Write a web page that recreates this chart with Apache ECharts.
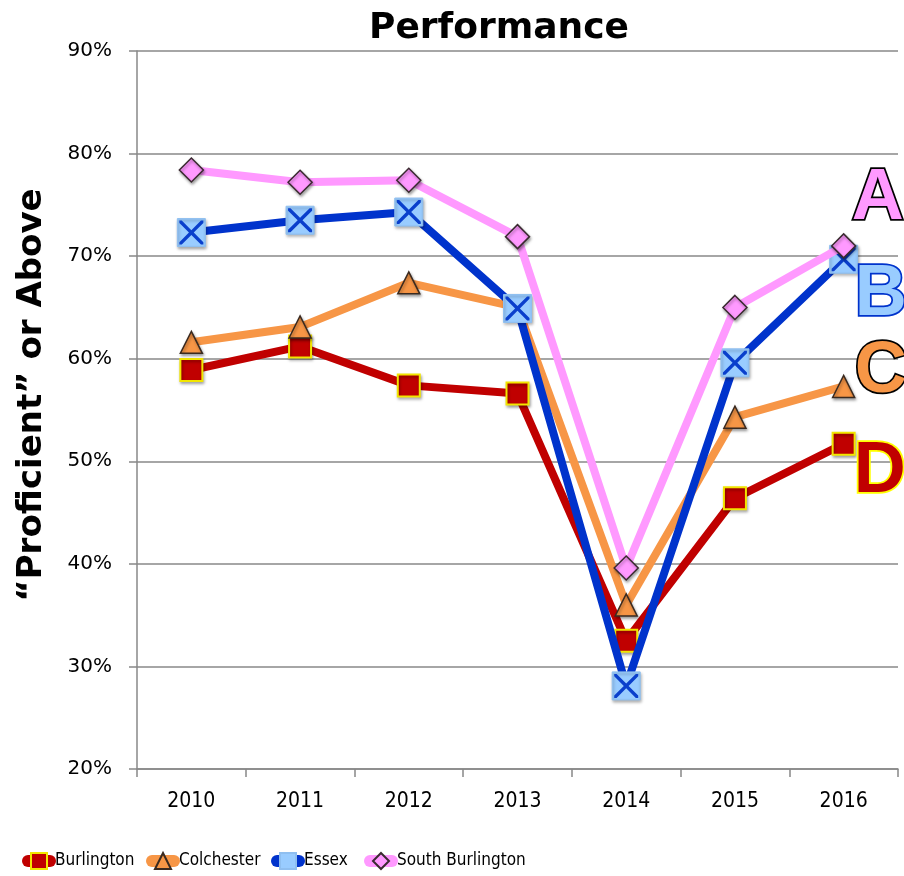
<!DOCTYPE html>
<html>
<head>
<meta charset="utf-8">
<title>Performance</title>
<script src="https://cdn.jsdelivr.net/npm/echarts@6/dist/echarts.min.js"></script>
<style>
  html, body { margin: 0; padding: 0; background: #ffffff; }
  #chart { width: 904px; height: 876px; }
</style>
</head>
<body>
<div id="chart"></div>
<script>
// 数据
const years = ['2010', '2011', '2012', '2013', '2014', '2015', '2016'];
const burlington = [58.9, 61.2, 57.4, 56.6, 32.5, 46.4, 51.7];
const colchester = [61.6, 63.1, 67.4, 65.0, 36.0, 54.3, 57.3];
const essex = [72.3, 73.5, 74.3, 64.9, 28.1, 59.6, 69.7];
const southBurlington = [78.4, 77.2, 77.4, 71.9, 39.6, 65.0, 71.0];
const seriesNames = ['Burlington', 'Colchester', 'Essex', 'South Burlington'];
const gradeLabels = ['D', 'C', 'B', 'A'];

const narrowFont = '"DejaVu Sans Condensed", "Liberation Sans", sans-serif';

const chart = echarts.init(document.getElementById('chart'));

const markerShadow = {
  shadowColor: 'rgba(0,0,0,0.35)',
  shadowBlur: 3,
  shadowOffsetX: 1,
  shadowOffsetY: 2
};

// 右侧大字母标签
const gradeLabel = (text, fill, stroke, offset) => ({
  show: true,
  formatter: text,
  offset: offset,
  fontFamily: 'Liberation Sans',
  fontWeight: 'bold',
  fontSize: 72,
  color: fill,
  textBorderColor: stroke,
  textBorderWidth: 3.5
});

const xPath = 'path://M0,0L2,0L10,8L18,0L20,0L20,2L12,10L20,18L20,20L18,20L10,12L2,20L0,20L0,18L8,10L0,2Z';

// 每个图例单独放置
const legendLeft = [22, 146, 271, 364];
const legends = seriesNames.map((name, i) => ({
  left: legendLeft[i],
  bottom: 6,
  padding: 0,
  itemWidth: 22,
  itemHeight: 20,
  itemGap: 0,
  data: [{ name: name, lineStyle: { width: 12, cap: 'round' } }],
  textStyle: {
    fontFamily: narrowFont,
    fontSize: 17,
    color: '#000000',
    padding: [0, 0, 0, 0]
  }
}));

const option = {
  backgroundColor: '#ffffff',
  animation: false,
  title: {
    text: 'Performance',
    left: 494,
    top: 6,
    textAlign: 'center',
    textStyle: {
      fontFamily: 'DejaVu Sans',
      fontWeight: 'bold',
      fontSize: 36,
      color: '#000000'
    }
  },
  legend: legends,
  grid: {
    left: 137,
    right: 6,
    top: 51,
    bottom: 107
  },
  xAxis: {
    type: 'category',
    data: years,
    boundaryGap: true,
    axisLine: { lineStyle: { color: '#888888', width: 1.5 } },
    axisTick: { show: true, length: 8, lineStyle: { color: '#888888', width: 1.5 } },
    axisLabel: {
      margin: 22,
      fontFamily: narrowFont,
      fontSize: 21,
      color: '#000000'
    }
  },
  yAxis: {
    type: 'value',
    min: 20,
    max: 90,
    interval: 10,
    name: '\u201cProficient\u201d or Above',
    nameLocation: 'middle',
    nameGap: 88,
    nameTextStyle: {
      fontFamily: 'DejaVu Sans',
      fontWeight: 'bold',
      fontSize: 34,
      color: '#000000',
      padding: [0, 0, 0, 30]
    },
    axisLine: { show: true, lineStyle: { color: '#888888', width: 1.5 } },
    axisTick: { show: true, length: 8, lineStyle: { color: '#888888', width: 1.5 } },
    axisLabel: {
      margin: 25,
      formatter: '{value}%',
      fontFamily: 'DejaVu Sans',
      fontSize: 20,
      color: '#000000'
    },
    splitLine: { lineStyle: { color: '#888888', width: 1.5 } }
  },
  series: [
    {
      name: seriesNames[0],
      type: 'line',
      data: burlington,
      z: 2,
      symbol: 'rect',
      symbolSize: 22,
      lineStyle: { color: '#c00000', width: 8 },
      itemStyle: Object.assign({ color: '#c00000', borderColor: '#f2e600', borderWidth: 2 }, markerShadow),
      endLabel: gradeLabel(gradeLabels[0], '#c00000', '#ffff00', [2, 28])
    },
    {
      name: seriesNames[1],
      type: 'line',
      data: colchester,
      z: 3,
      symbol: 'triangle',
      symbolSize: 22,
      lineStyle: { color: '#f79646', width: 8 },
      itemStyle: Object.assign({ color: '#f79646', borderColor: '#3a2a20', borderWidth: 1.5 }, markerShadow),
      endLabel: gradeLabel(gradeLabels[1], '#f79646', '#000000', [3, -14])
    },
    {
      name: seriesNames[2],
      type: 'line',
      data: essex,
      z: 4,
      symbol: 'rect',
      symbolSize: 28,
      lineStyle: { color: '#0033cc', width: 8 },
      itemStyle: Object.assign({ color: '#99ccff', borderColor: '#8fbff0', borderWidth: 1 }, markerShadow),
      endLabel: gradeLabel(gradeLabels[2], '#99ccff', '#0033cc', [3, 36])
    },
    {
      // Essex 标记上的蓝色叉
      name: seriesNames[2],
      type: 'line',
      data: essex,
      z: 5,
      symbol: xPath,
      symbolSize: 24,
      lineStyle: { width: 0, opacity: 0 },
      itemStyle: { color: '#0a3fcc' },
      legendHoverLink: false,
      silent: true
    },
    {
      name: seriesNames[3],
      type: 'line',
      data: southBurlington,
      z: 6,
      symbol: 'diamond',
      symbolSize: 24,
      lineStyle: { color: '#ff99ff', width: 8 },
      itemStyle: Object.assign({ color: '#ff99ff', borderColor: '#3a2a30', borderWidth: 1.5 }, markerShadow),
      endLabel: gradeLabel(gradeLabels[3], '#ff99ff', '#000000', [0, -47])
    }
  ]
};

chart.setOption(option);
</script>
</body>
</html>
